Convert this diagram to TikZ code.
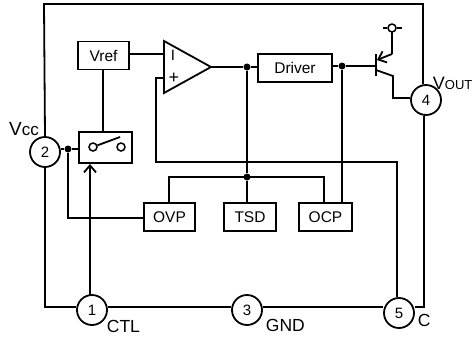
\documentclass[tikz,border=0pt]{standalone}
\usepackage{fontspec}
\setmainfont{Liberation Sans}
\usetikzlibrary{arrows.meta}
\tikzset{
  block/.style={draw,line width=1.9pt,minimum height=28pt,inner sep=0pt,font=\fontsize{15.5}{17}\selectfont},
  pin/.style={draw,circle,line width=1.8pt,minimum size=30pt,inner sep=0pt,font=\fontsize{15}{17}\selectfont},
  dot/.style={circle,fill=black,inner sep=0pt,minimum size=7pt},
  contact/.style={draw,circle,line width=1.5pt,inner sep=0pt,minimum size=8pt},
  pinlabel/.style={inner sep=0pt,font=\fontsize{17.5}{19}\selectfont},
  barb/.style={-{Straight Barb[length=7pt,width=12pt]}}
}
\begin{document}
\begin{tikzpicture}[x=1pt,y=-1pt,line width=1.8pt]
\useasboundingbox (0,0) rectangle (474,338);

% pins
\node[pin] (p2) at (45,152) {2};
\node[pin] (p1) at (92,310) {1};
\node[pin] (p3) at (247,310) {3};
\node[pin] (p5) at (399,313) {5};
\node[pin] (p4) at (426,100) {4};

% blocks
\node[block,minimum width=51pt] (vref) at (103.5,55.5) {Vref};
\node[block,minimum width=74pt] (driver) at (295,68) {Driver};
\node[block,minimum width=51pt] (ovp) at (169.5,217) {OVP};
\node[block,minimum width=52pt] (tsd) at (250,217) {TSD};
\node[block,minimum width=53pt] (ocp) at (325.5,217) {OCP};
\node[block,minimum width=53pt,minimum height=31pt] (sw) at (105.5,147.5) {};

% comparator
\coordinate (ampa) at (164,41);
\coordinate (ampb) at (164,93);
\coordinate (ampc) at (211,67);
\draw (ampa) -- (ampb) -- (ampc) -- cycle;
\node[inner sep=0pt,font=\fontsize{15}{15}\selectfont] at (173,55) {I};
\node[inner sep=0pt,font=\fontsize{18}{15}\selectfont] at (174,78) {+};

% outer frame
\coordinate (tl) at (44,4);
\coordinate (tr) at (423,4);
\coordinate (br) at (424,307);
\coordinate (bl) at (45,307);
\draw (p2.north) -- (tl) -- (tr) -- (p4.north -| tr);
\draw (p4.south -| br) -- (br) -- (p5.east |- br);
\draw (p2.south -| bl) -- (bl) -- (p1.west |- bl);
\draw (p1.east |- bl) -- (p3.west |- bl);
\draw (p3.east |- bl) -- (p5.west |- bl);

% switch
\node[contact] (sa) at (93,147) {};
\node[contact] (sb) at (121,147) {};
\coordinate (sc) at (120,137);
\draw (sa) -- (sc);
\coordinate (vrefo) at (103,69);
\draw (vrefo) -- (sw.north -| vrefo);

% vcc side
\node[dot] (j1) at (68,149) {};
\coordinate (j1b) at (68,218);
\draw (p2.east |- j1) -- (j1) -- (sw.west |- j1);
\draw (j1) -- (j1b) -- (ovp.west |- j1b);
\coordinate (ctlo) at (90,296);
\coordinate (ctli) at (90,164);
\draw[barb] (ctlo) -- (ctli);

% signal path
\node[dot] (j2) at (247,67) {};
\node[dot] (j3) at (342,66) {};
\node[dot] (j4) at (247,177) {};
\coordinate (ampi) at (164,54);
\draw (vref.east |- ampi) -- (ampi);
\draw (ampc) -- (j2) -- (driver.west |- j2);
\draw (driver.east |- j3) -- (j3);
\draw (j2) -- (j4) -- (tsd.north -| j4);
\draw (j3) -- (ocp.north -| j3);
\coordinate (ovpup) at (169,177);
\coordinate (ocpup) at (324,177);
\draw (ovp.north -| ovpup) -- (ovpup) -- (ocpup) -- (ocp.north -| ocpup);

% feedback to plus input
\coordinate (fba) at (164,78);
\coordinate (fbb) at (156,78);
\coordinate (fbc) at (156,162);
\coordinate (fbd) at (397,162);
\draw (fba) -- (fbb) -- (fbc) -- (fbd) -- (p5.north -| fbd);

% transistor
\coordinate (base) at (376,66);
\coordinate (basea) at (376,54);
\coordinate (baseb) at (376,76);
\coordinate (emi) at (392,54);
\coordinate (emo) at (392,32);
\coordinate (emt) at (377,60);
\coordinate (col) at (376,70);
\coordinate (colb) at (393,76);
\coordinate (colc) at (393,98);
\draw (j3) -- (base);
\draw (basea) -- (baseb);
\draw[barb] (emi) -- (emt);
\draw (emi) -- (emo);
\draw (col) -- (colb) -- (colc) -- (p4.west |- colc);
\node[contact] (vsup) at (392,28) {};
\coordinate (vsupa) at (383,28);
\coordinate (vsupb) at (402,28);
\draw (vsupa) -- (vsup) -- (vsupb);

% pin labels
\node[pinlabel,anchor=center] at (24,129) {\fontsize{19}{19}\selectfont V\fontsize{17}{19}\selectfont cc};
\node[pinlabel,anchor=west] at (432,83) {\fontsize{18}{19}\selectfont V\fontsize{13}{19}\selectfont OUT};
\node[pinlabel,anchor=west] at (106,326) {CTL};
\node[pinlabel,anchor=west] at (265,325) {GND};
\node[pinlabel,anchor=west] at (417,320) {C};
\end{tikzpicture}
\end{document}
